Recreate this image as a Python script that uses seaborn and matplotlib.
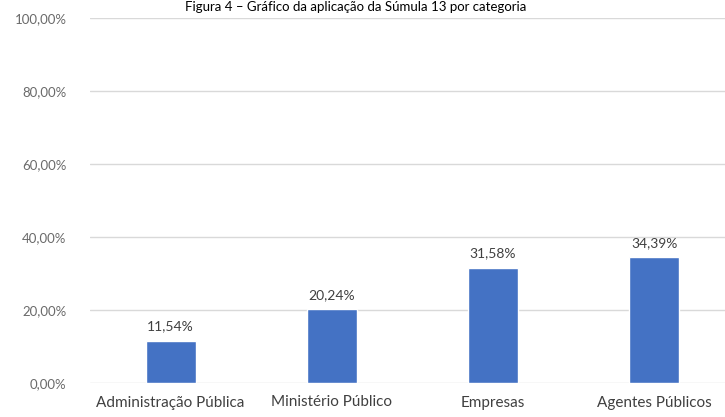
import matplotlib
matplotlib.use("Agg")
import matplotlib.pyplot as plt
import seaborn as sns
import pandas as pd

categories = ["Administração Pública", "Ministério Público", "Empresas", "Agentes Públicos"]
values = [11.54, 20.24, 31.58, 34.39]
value_labels = ["11,54%", "20,24%", "31,58%", "34,39%"]
y_ticks = [0, 20, 40, 60, 80, 100]
y_tick_labels = ["0,00%", "20,00%", "40,00%", "60,00%", "80,00%", "100,00%"]
title = "Figura 4 – Gráfico da aplicação da Súmula 13 por categoria"

sns.set_theme(style="white")
plt.rcParams['font.family'] = ['Lato', 'DejaVu Sans']

df = pd.DataFrame({"cat": categories, "val": values})

fig = plt.figure(figsize=(7.25, 4.17), dpi=100)
ax = fig.add_axes([90/725, 34/417, (725-90)/725, (383-18)/417])

sns.barplot(data=df, x="cat", y="val", color="#4472C4", width=0.31,
            saturation=1, ax=ax, zorder=3)

ax.set_ylim(0, 100)
ax.set_xlim(-0.5, 3.44)
ax.set_yticks(y_ticks)
ax.set_yticklabels(y_tick_labels, color="#6a6a6a", fontsize=9.5)
ax.tick_params(axis='y', length=0, pad=17)
ax.tick_params(axis='x', length=0, pad=9)
for lbl in ax.get_xticklabels():
    lbl.set_fontsize(11)
    lbl.set_color("#404040")
ax.set_xlabel("")
ax.set_ylabel("")
ax.grid(axis='y', color="#d9d9d9", linewidth=1, zorder=0)
for s in ax.spines.values():
    s.set_visible(False)

for i, (v, t) in enumerate(zip(values, value_labels)):
    ax.annotate(t, (i, v), xytext=(0, 6), textcoords="offset points",
                ha="center", va="bottom", fontsize=10, color="#404040")

fig.text(0.49, 1 - 1/417, title, ha="center", va="top", fontsize=9.5, color="black")

fig.savefig("out.png", dpi=100)
